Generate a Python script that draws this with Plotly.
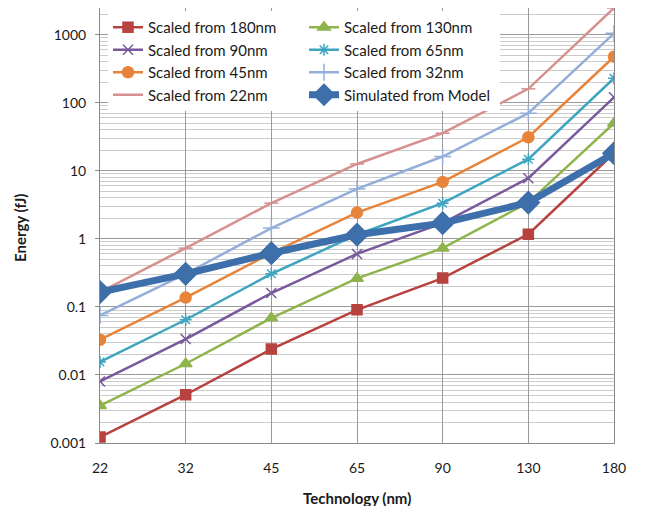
import plotly.graph_objects as go

technology = ["22", "32", "45", "65", "90", "130", "180"]

scaled_180 = [0.00122, 0.00512, 0.024, 0.0906, 0.265, 1.17, 18.1]
scaled_130 = [0.00353, 0.0146, 0.0686, 0.262, 0.73, 3.41, 50.0]
scaled_90 = [0.00803, 0.0337, 0.16, 0.60, 1.70, 7.79, 120.0]
scaled_65 = [0.0155, 0.0647, 0.306, 1.15, 3.34, 14.8, 229.0]
scaled_45 = [0.0329, 0.137, 0.616, 2.43, 6.87, 31.1, 475.0]
scaled_32 = [0.0748, 0.306, 1.44, 5.42, 16.2, 70.2, 1048.0]
scaled_22 = [0.165, 0.73, 3.35, 12.6, 35.7, 160.0, 2466.0]
simulated = [0.165, 0.306, 0.616, 1.15, 1.70, 3.41, 18.1]

ytick_vals = [0.001, 0.01, 0.1, 1, 10, 100, 1000]
ytick_text = ["0.001", "0.01", "0.1", "1", "10", "100", "1000"]

series = [
    ("Scaled from 180nm", scaled_180, "#B7423F", "square", 10, 2.5),
    ("Scaled from 130nm", scaled_130, "#8FB44C", "triangle-up", 11, 2.5),
    ("Scaled from 90nm", scaled_90, "#785A9C", "x-thin", 10, 2.5),
    ("Scaled from 65nm", scaled_65, "#3EA5C0", "asterisk", 10, 2.5),
    ("Scaled from 45nm", scaled_45, "#E8843A", "circle", 11, 2.5),
    ("Scaled from 32nm", scaled_32, "#94AEDA", "cross-thin", 12, 2.5),
    ("Scaled from 22nm", scaled_22, "#D6908F", "line-ew", 10, 2.5),
    ("Simulated from Model", simulated, "#3D6FAA", "diamond", 17, 7),
]

FONT = "Lato, 'Open Sans', sans-serif"

fig = go.Figure()
for name, vals, color, sym, msize, lw in series:
    fig.add_trace(go.Scatter(
        x=technology, y=vals, name=name, mode="lines+markers",
        line=dict(color=color, width=lw),
        marker=dict(symbol=sym, size=msize, color=color,
                    line=dict(color=color, width=1.5)),
    ))

# page body has an 8px margin; figure coordinates are screen - 8
W, H = 630, 498
L, R, T, B = 92, 24, 0, 63
pw, ph = W - L - R, H - T - B
OFF = 8

fig.update_layout(
    width=W, height=H,
    margin=dict(l=L, r=R, t=T, b=B),
    paper_bgcolor="white", plot_bgcolor="white",
    font=dict(family=FONT, size=14, color="#1a1a1a"),
    showlegend=True,
    legend=dict(
        orientation="h",
        x=(108 - OFF - L) / pw, y=(H - B - (11 - OFF)) / ph,
        xanchor="left", yanchor="top",
        bgcolor="white", borderwidth=0,
        entrywidth=151, entrywidthmode="pixels",
        font=dict(family=FONT, size=15, color="#1a1a1a"),
        itemwidth=30,
    ),
    xaxis=dict(
        type="category", range=[0, 6],
        showgrid=True, gridcolor="#9a9a9a", gridwidth=1,
        showline=True, linecolor="#8a8a8a", linewidth=1,
        ticks="", ticklabelstandoff=12,
        tickfont=dict(family=FONT, size=14, color="#1a1a1a"),
        zeroline=False,
    ),
    yaxis=dict(
        type="log", range=[-3, 3.392],
        tickvals=ytick_vals, ticktext=ytick_text,
        showgrid=True, gridcolor="#9a9a9a", gridwidth=1,
        showline=True, linecolor="#8a8a8a", linewidth=1, mirror=True,
        ticks="outside", ticklen=4, tickcolor="#8a8a8a",
        ticklabelstandoff=6,
        tickfont=dict(family=FONT, size=14, color="#1a1a1a"),
        minor=dict(dtick="D1", showgrid=True, gridcolor="#cccccc", gridwidth=1),
        zeroline=False,
    ),
    annotations=[
        dict(text="<b>Technology (nm)</b>", xref="paper", yref="paper",
             x=0.5, y=(H - B - (498 - OFF)) / ph, xanchor="center", yanchor="middle",
             showarrow=False, font=dict(family=FONT, size=15, color="#1a1a1a")),
        dict(text="<b>Energy (fJ)</b>", xref="paper", yref="paper",
             x=(20 - OFF - L) / pw, y=(H - B - (228 - OFF)) / ph,
             xanchor="center", yanchor="middle",
             textangle=-90, showarrow=False,
             font=dict(family=FONT, size=15, color="#1a1a1a")),
    ],
)

fig.write_html("out.html")
